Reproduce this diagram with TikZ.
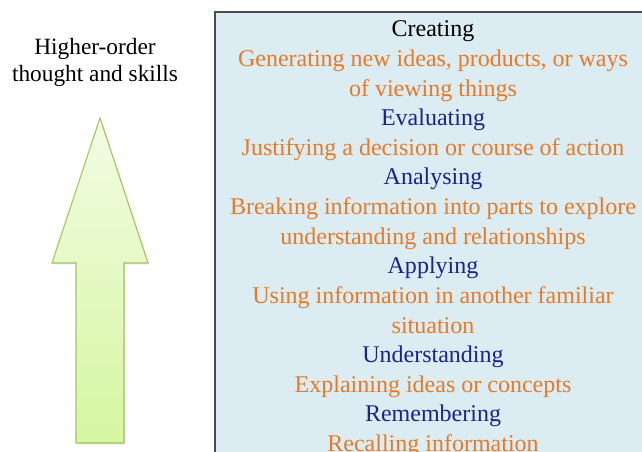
\documentclass[tikz,border=0pt]{standalone}
\usepackage{fontspec}
\setmainfont{Liberation Serif}
\usetikzlibrary{shadows}
\definecolor{boxblue}{RGB}{219,237,243}
\definecolor{levelblue}{RGB}{32,32,140}
\definecolor{descorange}{RGB}{230,122,40}
\definecolor{arrowtop}{RGB}{242,252,228}
\definecolor{arrowbot}{RGB}{214,246,160}
\definecolor{arrowline}{RGB}{160,196,100}
\begin{document}
\begin{tikzpicture}[x=0.75pt, y=-0.75pt,
			level/.style={anchor=base, inner sep=0pt, font=\fontsize{18}{22}\selectfont},
			side/.style={anchor=base, inner sep=0pt, align=center, font=\fontsize{17.5}{21}\selectfont}]
			\useasboundingbox (0,0) rectangle (642,452);
			% blue box on the right
			\draw[fill=boxblue, draw=black!70, line width=1.1pt] (215,12) rectangle (660,470);
			% the arrow
			\draw[arrowline, line width=0.8pt, top color=arrowtop, bottom color=arrowbot,
			  drop shadow={opacity=0.2, shadow xshift=1pt, shadow yshift=-1pt}]
			  (100,118) -- (148,263) -- (124,263) -- (124,443) -- (76,443) -- (76,263) -- (52,263) -- cycle;
			\node[side] (hi1) at (95,55) {Higher-order};
			\node[side] (hi2) at (95,82) {thought and skills};
			% levels and descriptions
			\foreach \i/\c/\t in {
			  0/black/Creating,
			  1/descorange/{Generating new ideas, products, or ways},
			  2/descorange/of viewing things,
			  3/levelblue/Evaluating,
			  4/descorange/Justifying a decision or course of action,
			  5/levelblue/Analysing,
			  6/descorange/Breaking information into parts to explore,
			  7/descorange/understanding and relationships,
			  8/levelblue/Applying,
			  9/descorange/Using information in another familiar,
			  10/descorange/situation,
			  11/levelblue/Understanding,
			  12/descorange/Explaining ideas or concepts,
			  13/levelblue/Remembering,
			  14/descorange/Recalling information}{
			    \node[level, text=\c] (l\i) at (433, 37+29.6*\i) {\t};
			}
		\end{tikzpicture}
\end{document}
